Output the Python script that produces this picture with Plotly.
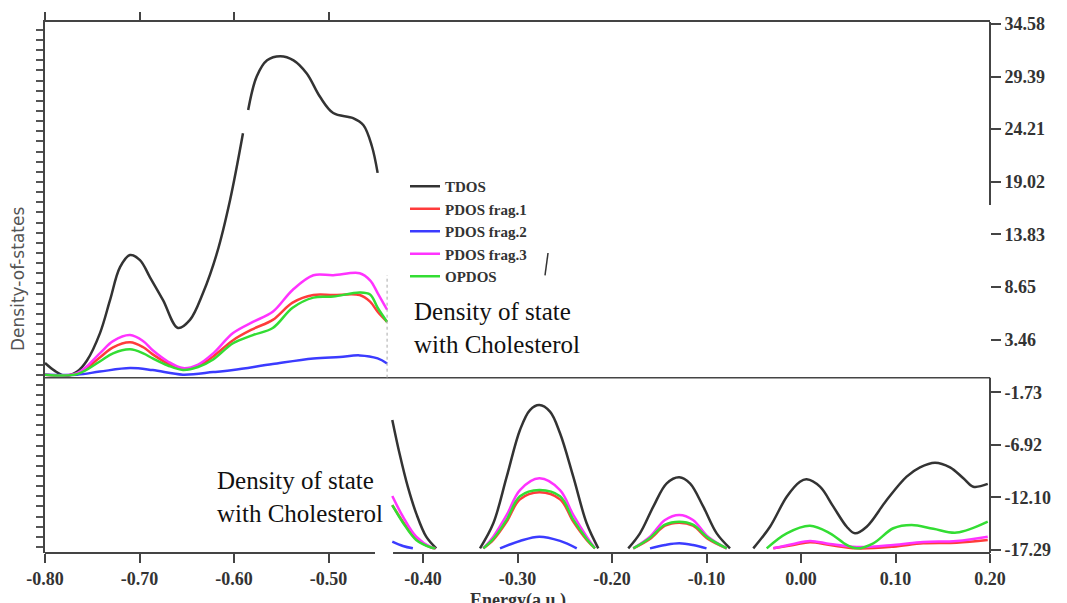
import plotly.graph_objects as go

# ---------------- data ----------------
series_names = ["TDOS", "PDOS frag.1", "PDOS frag.2", "PDOS frag.3", "OPDOS"]
series_colors = ["#333333", "#ff3b3b", "#3b3bff", "#ff33ff", "#33dd33"]

# upper-left panel (energy in a.u., density of states)
tdos_top_e = [-0.800, -0.790, -0.779, -0.766, -0.7556, -0.7418, -0.7312, -0.7206, -0.7101, -0.6995,
              -0.6889, -0.6751, -0.6593, -0.6466, -0.6328, -0.6180, -0.6042, -0.5905, None,
              -0.585, -0.576, -0.565, -0.551, -0.537,
              -0.523, -0.509, -0.495, -0.474, -0.463, -0.454, -0.448]
tdos_top_v = [1.15, 0.4, -0.1, 0.3, 1.4, 4.1, 7.35, 10.6, 11.8, 11.3,
              9.6, 7.35, 4.6, 5.4, 8.05, 12.0, 17.2, 23.8, None,
              26.1, 29.4, 31.0, 31.4, 31.0,
              29.7, 27.4, 25.8, 25.3, 24.6, 22.5, 19.9]

frag_top_e = [-0.800, -0.766, -0.742, -0.728, -0.710, -0.696, -0.686, -0.670, -0.654, -0.638,
              -0.622, -0.601, -0.580, -0.559, -0.538, -0.516, -0.495, -0.467, -0.456, -0.448, -0.438]
frag1_top_v = [0.0, 0.1, 1.7, 2.7, 3.2, 2.7, 2.0, 1.1, 0.55, 0.85,
               1.8, 3.4, 4.5, 5.4, 7.1, 7.85, 7.85, 7.85, 7.2, 6.2, 5.2]
frag3_top_v = [0.0, 0.15, 2.1, 3.3, 3.9, 3.3, 2.4, 1.3, 0.65, 1.0,
               2.1, 4.1, 5.2, 6.2, 8.35, 9.8, 9.8, 10.0, 9.3, 8.05, 6.4]
opdos_top_v = [0.0, 0.05, 1.3, 2.1, 2.5, 2.1, 1.6, 0.9, 0.46, 0.75,
               1.5, 3.1, 3.9, 4.6, 6.6, 7.6, 7.7, 8.1, 7.9, 6.6, 5.2]
frag2_top_e = [-0.800, -0.766, -0.742, -0.710, -0.686, -0.654, -0.622, -0.601, -0.559,
               -0.516, -0.488, -0.467, -0.448, -0.438]
frag2_top_v = [0.0, 0.0, 0.3, 0.65, 0.45, 0.0, 0.25, 0.46, 1.05,
               1.6, 1.75, 1.9, 1.6, 1.1]

# lower-right panel, drawn as separate segments (values on the right-hand scale)
seg_a_e = [-0.4325, -0.4249, -0.4161, -0.4072, -0.3966, -0.3860]
seg_a_e5 = [-0.4325, -0.4212, -0.4072, -0.3913, -0.3870]
seg_b_e = [-0.3397, -0.3256, -0.3114, -0.2974, -0.2868, -0.2769, -0.2656, -0.2550, -0.2410, -0.2268, -0.2145]
seg_b_e9 = [-0.3362, -0.3256, -0.3114, -0.2974, -0.2769, -0.2550, -0.2410, -0.2268, -0.2180]
seg_c_e = [-0.1828, -0.1704, -0.1563, -0.1421, -0.1288, -0.1175, -0.1034, -0.0892, -0.0751]
seg_c_e7 = [-0.1775, -0.1598, -0.1439, -0.1288, -0.1143, -0.0984, -0.0786]

tdos_bot_e = [seg_a_e, seg_b_e, seg_c_e,
              [-0.0505, -0.0328, -0.0151, -0.0011, 0.0060, 0.0201, 0.0342, 0.0484, 0.0571,
               0.0695, 0.0907, 0.1118, 0.1259, 0.1418, 0.1577, 0.1718, 0.1823, 0.1976]]
tdos_bot_v = [[-4.47, -7.76, -11.05, -13.68, -15.98, -17.13],
              [-17.13, -14.66, -10.06, -5.46, -3.49, -3.0, -3.65, -5.78, -10.06, -14.66, -17.13],
              [-17.13, -15.65, -13.02, -10.72, -10.12, -10.72, -13.02, -15.65, -17.13],
              [-17.13, -15.0, -12.04, -10.56, -10.32, -11.05, -13.02, -15.0, -15.65,
               -15.0, -12.36, -10.06, -9.14, -8.68, -9.14, -10.22, -11.05, -10.78]]

frag_d_e = [-0.0293, -0.0081, 0.0095, 0.0307, 0.0589, 0.0977, 0.1294, 0.1647, 0.1976]
frag1_bot_e = [seg_a_e5, seg_b_e9, seg_c_e7, frag_d_e]
frag1_bot_v = [[-12.86, -14.5, -16.2, -17.05, -17.13],
               [-17.13, -16.3, -14.5, -12.3, -11.6, -12.3, -14.5, -16.3, -17.13],
               [-17.13, -16.2, -14.9, -14.6, -14.9, -16.2, -17.13],
               [-17.13, -16.8, -16.53, -16.8, -17.13, -16.97, -16.63, -16.57, -16.3]]
frag3_bot_e = [seg_a_e5, seg_b_e9, seg_c_e7, frag_d_e]
frag3_bot_v = [[-11.97, -14.01, -15.98, -17.03, -17.13],
               [-17.13, -15.98, -13.84, -11.38, -10.22, -11.38, -13.84, -15.98, -17.13],
               [-17.13, -15.98, -14.33, -13.84, -14.33, -15.98, -17.13],
               [-17.13, -16.7, -16.4, -16.7, -17.0, -16.8, -16.5, -16.4, -15.98]]
opdos_bot_e = [seg_a_e5, seg_b_e9, seg_c_e7,
               [-0.0363, -0.0151, 0.0095, 0.0307, 0.0484, 0.0589, 0.0765, 0.0977, 0.1171, 0.1400, 0.1647, 0.1976]]
opdos_bot_v = [[-12.86, -14.6, -16.3, -17.05, -17.13],
               [-17.13, -16.2, -14.3, -12.0, -11.38, -12.0, -14.3, -16.2, -17.13],
               [-17.13, -16.1, -14.8, -14.5, -14.8, -16.1, -17.13],
               [-17.13, -15.65, -14.9, -15.65, -16.8, -17.13, -16.63, -15.15, -14.83, -15.2, -15.58, -14.5]]
frag2_bot_e = [[-0.4325, -0.4212, -0.4107],
               [-0.3185, -0.2974, -0.2769, -0.2550, -0.2373],
               [-0.1598, -0.1439, -0.1288, -0.1143, -0.1000]]
frag2_bot_v = [[-16.47, -16.9, -17.13],
               [-17.13, -16.4, -15.98, -16.4, -17.13],
               [-17.13, -16.8, -16.63, -16.8, -17.13]]

x_tick_vals = [-0.8, -0.7, -0.6, -0.5, -0.4, -0.3, -0.2, -0.1, 0.0, 0.1, 0.2]
x_tick_text = ["-0.80", "-0.70", "-0.60", "-0.50", "-0.40", "-0.30", "-0.20", "-0.10", "0.00", "0.10", "0.20"]
top_tick_vals = [-0.8, -0.7, -0.6, -0.5]
y_tick_vals = [34.58, 29.39, 24.21, 19.02, 13.83, 8.65, 3.46, -1.73, -6.92, -12.10, -17.29]
y_tick_text = ["34.58", "29.39", "24.21", "19.02", "13.83", "8.65", "3.46", "-1.73", "-6.92", "-12.10", "-17.29"]

caption = "Density of state<br>with Cholesterol"
x_title = "Energy(a.u.)"
y_title = "Density-of-states"

# ---------------- figure ----------------
def join_segments(es, vs):
    xs, ys = [], []
    for e, v in zip(es, vs):
        if xs:
            xs.append(None)
            ys.append(None)
        xs.extend(e)
        ys.extend(v)
    return xs, ys

fig = go.Figure()
top_data = [(tdos_top_e, tdos_top_v), (frag_top_e, frag1_top_v), (frag2_top_e, frag2_top_v),
            (frag_top_e, frag3_top_v), (frag_top_e, opdos_top_v)]
bot_data = [(tdos_bot_e, tdos_bot_v), (frag1_bot_e, frag1_bot_v), (frag2_bot_e, frag2_bot_v),
            (frag3_bot_e, frag3_bot_v), (opdos_bot_e, opdos_bot_v)]

for name, col, (e, v) in zip(series_names, series_colors, top_data):
    fig.add_trace(go.Scatter(x=e, y=v, mode="lines", name="<b>" + name + "</b>", legendgroup=name,
                             line=dict(color=col, width=2.5, shape="spline", smoothing=1.0),
                             connectgaps=False))
for name, col, (e, v) in zip(series_names, series_colors, bot_data):
    xs, ys = join_segments(e, v)
    fig.add_trace(go.Scatter(x=xs, y=ys, mode="lines", name=name, legendgroup=name, showlegend=False,
                             line=dict(color=col, width=2.5, shape="spline", smoothing=1.0),
                             connectgaps=False))
# carrier for the overlaid (top / left) axes
fig.add_trace(go.Scatter(x=[None], y=[None], xaxis="x2", yaxis="y2", showlegend=False, hoverinfo="skip"))

axis_col = "#444444"
serif_bold = dict(family="Liberation Serif", size=18, color="#333333", weight="bold")

# page body adds an 8px offset, so the figure is 8px smaller and margins shifted
fig.update_layout(
    width=1059, height=595,
    margin=dict(l=37, r=77, t=14, b=50),
    paper_bgcolor="white", plot_bgcolor="white",
    xaxis=dict(range=[-0.8, 0.2], tickvals=x_tick_vals, ticktext=x_tick_text, automargin=False,
               ticks="outside", ticklen=9, tickwidth=2, tickcolor=axis_col,
               showline=False, showgrid=False, zeroline=False, tickfont=serif_bold),
    xaxis2=dict(range=[-0.8, 0.2], overlaying="x", side="top", anchor="y2", automargin=False,
                tickvals=top_tick_vals, showticklabels=False,
                ticks="outside", ticklen=8, tickwidth=2, tickcolor=axis_col,
                showline=True, linecolor=axis_col, linewidth=2,
                showgrid=False, zeroline=False),
    yaxis=dict(range=[-17.59, 34.78], side="right", tickvals=y_tick_vals, ticktext=y_tick_text,
               automargin=False,
               ticks="outside", ticklen=10, tickwidth=2, tickcolor=axis_col,
               showline=False, showgrid=False, zeroline=False, tickfont=serif_bold),
    yaxis2=dict(range=[-17.59, 34.78], overlaying="y", side="left", anchor="x2", automargin=False,
                tick0=0, dtick=1, ticks="outside", ticklen=7, tickwidth=1.5, tickcolor="#555555",
                showticklabels=False, showline=True, linecolor=axis_col, linewidth=2,
                showgrid=False, zeroline=False),
    legend=dict(x=(405 - 45) / 945, y=(553 - 170) / 531, xanchor="left", yanchor="top",
                bgcolor="rgba(0,0,0,0)", borderwidth=0, tracegroupgap=0,
                font=dict(family="Liberation Serif", size=15, color="#333333"),
                itemclick=False),
    showlegend=True,
)

# axis line segments (the composite picture has broken axes)
line_style = dict(color=axis_col, width=2)
fig.add_shape(type="line", xref="x", yref="paper", x0=-0.8, x1=-0.4508, y0=0, y1=0, line=line_style)
fig.add_shape(type="line", xref="x", yref="paper", x0=-0.4317, x1=0.2, y0=0, y1=0, line=line_style)
fig.add_shape(type="line", xref="paper", yref="y", x0=1, x1=1, y0=34.78, y1=16.73, line=line_style)
fig.add_shape(type="line", xref="paper", yref="y", x0=1, x1=1, y0=-0.3, y1=-17.59, line=line_style)
fig.add_shape(type="line", xref="x", yref="y", x0=-0.8, x1=0.2, y0=-0.3, y1=-0.3,
              line=dict(color=axis_col, width=1.5))
fig.add_shape(type="line", xref="x", yref="y", x0=-0.438, x1=-0.438, y0=-0.3, y1=9.8,
              line=dict(color="#aaaaaa", width=1, dash="dot"))
fig.add_shape(type="line", xref="x", yref="y", x0=-0.2677, x1=-0.2709, y0=12.0, y1=9.8,
              line=dict(color="#333333", width=1.5))

fig.add_annotation(x=(412 - 45) / 945, y=(553 - 327.5) / 531, xref="paper", yref="paper",
                   text=caption, showarrow=False, xanchor="left", yanchor="middle", align="left",
                   font=dict(family="Liberation Serif", size=25, color="#111111"))
fig.add_annotation(x=(215 - 45) / 945, y=(553 - 496.5) / 531, xref="paper", yref="paper",
                   text=caption, showarrow=False, xanchor="left", yanchor="middle", align="left",
                   font=dict(family="Liberation Serif", size=25, color="#111111"))
fig.add_annotation(x=(18 - 45) / 945, y=(553 - 279) / 531, xref="paper", yref="paper",
                   text=y_title, showarrow=False, textangle=-90,
                   xanchor="center", yanchor="middle",
                   font=dict(family="DejaVu Sans", size=17, color="#555555"))
fig.add_annotation(x=0.5, y=(553 - 588) / 531, xref="paper", yref="paper",
                   text=x_title, showarrow=False, xanchor="center", yanchor="top",
                   font=serif_bold)

fig.write_html("out.html")
